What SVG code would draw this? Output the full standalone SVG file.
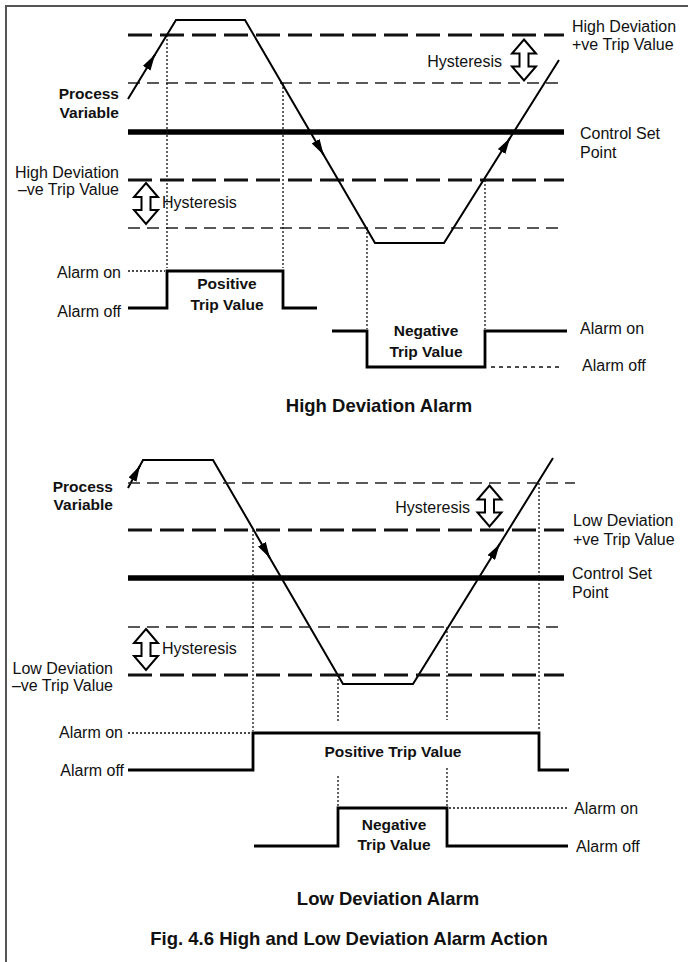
<svg xmlns="http://www.w3.org/2000/svg" xmlns:xlink="http://www.w3.org/1999/xlink" width="689" height="962" viewBox="0 0 689 962">
<style>
text{font-family:"Liberation Sans",Arial,sans-serif;fill:#111}
.n{font-size:16px}
.b{font-size:15.5px;font-weight:bold}
.t{font-size:18.5px;font-weight:bold}
.e{text-anchor:end}
.m{text-anchor:middle}
.heavy{stroke:#111;stroke-width:3;stroke-dasharray:24 8;fill:none}
.thin{stroke:#222;stroke-width:1.4;stroke-dasharray:12 7;fill:none}
.sp{stroke:#000;stroke-width:5.5;fill:none}
.dot{stroke:#111;stroke-width:1.3;stroke-dasharray:2 2;fill:none}
.dsh{stroke:#111;stroke-width:1.3;stroke-dasharray:4 4;fill:none}
.pv{stroke:#000;stroke-width:2;fill:none;stroke-linejoin:miter}
.ar{stroke:#000;stroke-width:2;fill:none;marker-end:url(#ah)}
.wf{stroke:#000;stroke-width:2.8;fill:none;stroke-linejoin:miter}
.frame{stroke:#555;stroke-width:2;fill:none}
</style>
<defs>
<marker id="ah" viewBox="0 0 16 9" refX="16" refY="4.5" markerUnits="userSpaceOnUse" markerWidth="16" markerHeight="9" orient="auto">
<path d="M0,0 L16,4.5 L0,9 Z" fill="#000"/>
</marker>
<path id="hyst" d="M0,-20.5 L12,-6.5 L4.5,-6.5 L4.5,6.5 L12,6.5 L0,20.5 L-12,6.5 L-4.5,6.5 L-4.5,-6.5 L-12,-6.5 Z" fill="#fff" stroke="#000" stroke-width="2" stroke-linejoin="miter"/>
</defs>
<rect width="689" height="962" fill="#fff"/>
<path class="frame" d="M6,962 V6 H688"/>

<!-- ===== High Deviation Alarm ===== -->
<g id="high-levels">
<line class="heavy" x1="128" y1="35" x2="564" y2="35"/>
<line class="thin" x1="128" y1="83" x2="564" y2="83"/>
<line class="sp" x1="128" y1="132" x2="564" y2="132"/>
<line class="heavy" x1="128" y1="180" x2="564" y2="180"/>
<line class="thin" x1="128" y1="228" x2="564" y2="228"/>
</g>
<g id="high-guides">
<line class="dot" x1="167" y1="35" x2="167" y2="268"/>
<line class="dot" x1="283" y1="83" x2="283" y2="268"/>
<line class="dot" x1="367" y1="228" x2="367" y2="329"/>
<line class="dot" x1="485" y1="180" x2="485" y2="329"/>
<line class="dot" x1="128" y1="271" x2="165" y2="271"/>
<line class="dsh" x1="491" y1="367" x2="562" y2="367"/>
</g>
<g id="connectors">
<path class="pv" d="M128,99 L176,20 L245,20 L375,243 L444,243 L559,60"/>
<path class="ar" d="M149.8,63.1 L155,54.6"/>
<path class="ar" d="M318.7,146.4 L323.7,155"/>
<path class="ar" d="M504.7,146.5 L510,138"/>
<path class="pv" d="M128,488 L143,460 L213,460 L343,684 L413,684 L553,458"/>
<path class="ar" d="M135.3,474.4 L140,465.6"/>
<path class="ar" d="M264.9,549.4 L269.9,558"/>
<path class="ar" d="M494.4,552.5 L499.7,544"/>
</g>
<g id="high-waves">
<path class="wf" d="M128,308 H167 V271 H283 V308 H317"/>
<path class="wf" d="M332,331 H367 V367 H485 V331 H567"/>
</g>
<g id="high-hyst-left"><use xlink:href="#hyst" x="146" y="203.5"/><text class="n" x="162" y="208">Hysteresis</text></g>
<g id="high-hyst-right"><use xlink:href="#hyst" x="524" y="60"/><text class="n e" x="502" y="66.5">Hysteresis</text></g>
<g id="high-pv-label"><text class="b e" x="119" y="99">Process</text><text class="b e" x="119" y="118">Variable</text></g>
<g id="high-neg-label"><text class="n e" x="119" y="177.5">High Deviation</text><text class="n e" x="119" y="195">–ve Trip Value</text></g>
<g id="high-pos-label"><text class="n" x="572" y="31.5">High Deviation</text><text class="n" x="572" y="50">+ve Trip Value</text></g>
<g id="high-sp-label"><text class="n" x="580" y="138.5">Control Set</text><text class="n" x="580" y="157.5">Point</text></g>
<g id="high-alarm-left"><text class="n e" x="121" y="277.5">Alarm on</text><text class="n e" x="121" y="317">Alarm off</text></g>
<g id="high-pos-trip"><text class="b m" x="227" y="288.5">Positive</text><text class="b m" x="227" y="310">Trip Value</text></g>
<g id="high-neg-trip"><text class="b m" x="426" y="336">Negative</text><text class="b m" x="426" y="357">Trip Value</text></g>
<g id="high-alarm-right"><text class="n" x="580" y="333.5">Alarm on</text><text class="n" x="582" y="371">Alarm off</text></g>
<g id="high-title"><text class="t m" x="379" y="411.5">High Deviation Alarm</text></g>

<!-- ===== Low Deviation Alarm ===== -->
<g id="low-levels">
<line class="thin" x1="128" y1="483" x2="575" y2="483"/>
<line class="heavy" x1="128" y1="530" x2="564" y2="530"/>
<line class="sp" x1="128" y1="578" x2="564" y2="578"/>
<line class="thin" x1="128" y1="627" x2="564" y2="627"/>
<line class="heavy" x1="128" y1="675" x2="564" y2="675"/>
</g>
<g id="low-guides">
<line class="dot" x1="253" y1="530" x2="253" y2="731"/>
<line class="dot" x1="338" y1="675" x2="338" y2="723"/>
<line class="dot" x1="338" y1="776" x2="338" y2="806"/>
<line class="dot" x1="447" y1="627" x2="447" y2="720"/>
<line class="dot" x1="447" y1="768" x2="447" y2="806"/>
<line class="dot" x1="539" y1="483" x2="539" y2="731"/>
<line class="dot" x1="128" y1="733" x2="251" y2="733"/>
<line class="dot" x1="449" y1="808" x2="567" y2="808"/>
</g>
<g id="low-waves">
<path class="wf" d="M128,770 H253 V733 H539 V770 H569"/>
<path class="wf" d="M254,846 H338 V808 H447 V846 H568"/>
</g>
<g id="low-hyst-right"><use xlink:href="#hyst" x="489.5" y="506"/><text class="n e" x="470" y="512.5">Hysteresis</text></g>
<g id="low-hyst-left"><use xlink:href="#hyst" x="146" y="649.5"/><text class="n" x="162" y="653.5">Hysteresis</text></g>
<g id="low-pv-label"><text class="b e" x="113" y="491.5">Process</text><text class="b e" x="113" y="510">Variable</text></g>
<g id="low-pos-label"><text class="n" x="573" y="525.5">Low Deviation</text><text class="n" x="573" y="544.5">+ve Trip Value</text></g>
<g id="low-sp-label"><text class="n" x="572" y="578.5">Control Set</text><text class="n" x="572" y="597.5">Point</text></g>
<g id="low-neg-label"><text class="n e" x="113" y="673.5">Low Deviation</text><text class="n e" x="113" y="690.5">–ve Trip Value</text></g>
<g id="low-alarm-left"><text class="n e" x="123" y="737.5">Alarm on</text><text class="n e" x="124" y="775.5">Alarm off</text></g>
<g id="low-pos-trip"><text class="b m" x="393" y="756.5">Positive Trip Value</text></g>
<g id="low-neg-trip"><text class="b m" x="394" y="829.5">Negative</text><text class="b m" x="394" y="849.5">Trip Value</text></g>
<g id="low-alarm-right"><text class="n" x="574" y="813.5">Alarm on</text><text class="n" x="576" y="851.5">Alarm off</text></g>
<g id="low-title"><text class="t m" x="388" y="904.5">Low Deviation Alarm</text></g>
<g id="caption"><text class="t m" x="349" y="944.5">Fig. 4.6 High and Low Deviation Alarm Action</text></g>
</svg>
